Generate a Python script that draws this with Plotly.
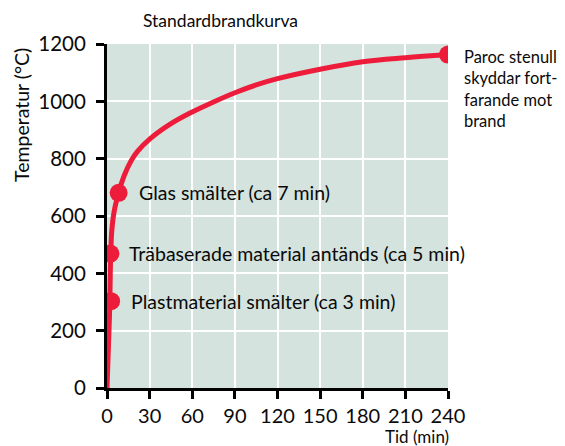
import plotly.graph_objects as go

# Curve (time in minutes, temperature in °C)
curve_t = [0, 0.7, 1.4, 2.0, 2.3, 2.7, 3.4, 5.0, 8.2, 12.2, 16.9, 21.6, 30, 45, 60, 75, 90, 105, 120, 150, 180, 210, 240]
curve_T = [0, 100, 200, 300, 400, 480, 550, 615, 681, 742, 792, 826, 868, 922, 963, 998, 1030, 1057, 1079, 1112, 1138, 1152, 1163]

# Marked points
dot_t = [2.9, 2.4, 8.2, 240]
dot_T = [303, 469, 681, 1163]
dot_labels = ["Plastmaterial smälter (ca 3 min)",
              "Träbaserade material antänds (ca 5 min)",
              "Glas smälter (ca 7 min)"]
dot_shift = [18, 17, 18.5]
paroc_label = "Paroc stenull<br>skyddar fort-<br>farande mot<br>brand"

x_ticks = [0, 30, 60, 90, 120, 150, 180, 210, 240]
y_ticks = [0, 200, 400, 600, 800, 1000, 1200]

RED = "#ee1c3b"
FONT = "Lato"
INK = "#0a0a0a"

fig = go.Figure()
fig.add_trace(go.Scatter(x=curve_t, y=curve_T, mode="lines",
                         line=dict(color=RED, width=5, shape="spline", smoothing=1.0),
                         hoverinfo="skip"))
fig.add_trace(go.Scatter(x=dot_t, y=dot_T, mode="markers",
                         marker=dict(color=RED, size=18), hoverinfo="skip"))

for t, T, lab, s in zip(dot_t[:3], dot_T[:3], dot_labels, dot_shift):
    fig.add_annotation(x=t, y=T, xref="x", yref="y", text=lab, showarrow=False,
                       xanchor="left", yanchor="middle", xshift=s,
                       font=dict(family=FONT, size=19.5, color=INK))

# Plot area: page x 106.6..448.2, page y 43.7..387.7 (figure is offset 8px in the page)
fig.add_annotation(x=1.0404, y=1.0, xref="paper", yref="paper", text=paroc_label,
                   showarrow=False, xanchor="left", yanchor="top", align="left", yshift=-1,
                   font=dict(family=FONT, size=16.5, color=INK))
fig.add_annotation(x=0.333, y=1.0, xref="paper", yref="paper", text="Standardbrandkurva",
                   showarrow=False, xanchor="center", yanchor="middle", yshift=23.5,
                   font=dict(family=FONT, size=17.5, color=INK))
fig.add_annotation(x=0, y=1.0, xref="paper", yref="paper", text="Temperatur (°C)",
                   showarrow=False, textangle=-90, xanchor="center", yanchor="middle",
                   xshift=-86, yshift=-71,
                   font=dict(family=FONT, size=19.5, color=INK))
fig.add_annotation(x=1.0, y=0, xref="paper", yref="paper", text="Tid (min)",
                   showarrow=False, xanchor="right", yanchor="middle", yshift=-48.5, xshift=3,
                   font=dict(family=FONT, size=17, color=INK))

fig.update_layout(
    width=557, height=438,
    margin=dict(l=98.6, r=116.8, t=35.7, b=58.3),
    paper_bgcolor="white", plot_bgcolor="#d4e3dd",
    showlegend=False,
    font=dict(family=FONT, size=20, color=INK),
)
fig.update_xaxes(range=[0, 240], tickvals=x_ticks, showgrid=True, gridcolor="white", gridwidth=2,
                 zeroline=False, showline=True, linecolor="black", linewidth=3,
                 ticks="outside", ticklen=8, tickwidth=3, tickcolor="black",
                 tickfont=dict(family=FONT, size=20, color=INK), fixedrange=True)
fig.update_yaxes(range=[0, 1200], tickvals=y_ticks, showgrid=True, gridcolor="white", gridwidth=2,
                 zeroline=False, showline=True, linecolor="black", linewidth=3,
                 ticks="outside", ticklen=8, tickwidth=3, tickcolor="black", ticklabelstandoff=6,
                 tickfont=dict(family=FONT, size=20.5, color=INK), fixedrange=True)

fig.write_html("out.html")
